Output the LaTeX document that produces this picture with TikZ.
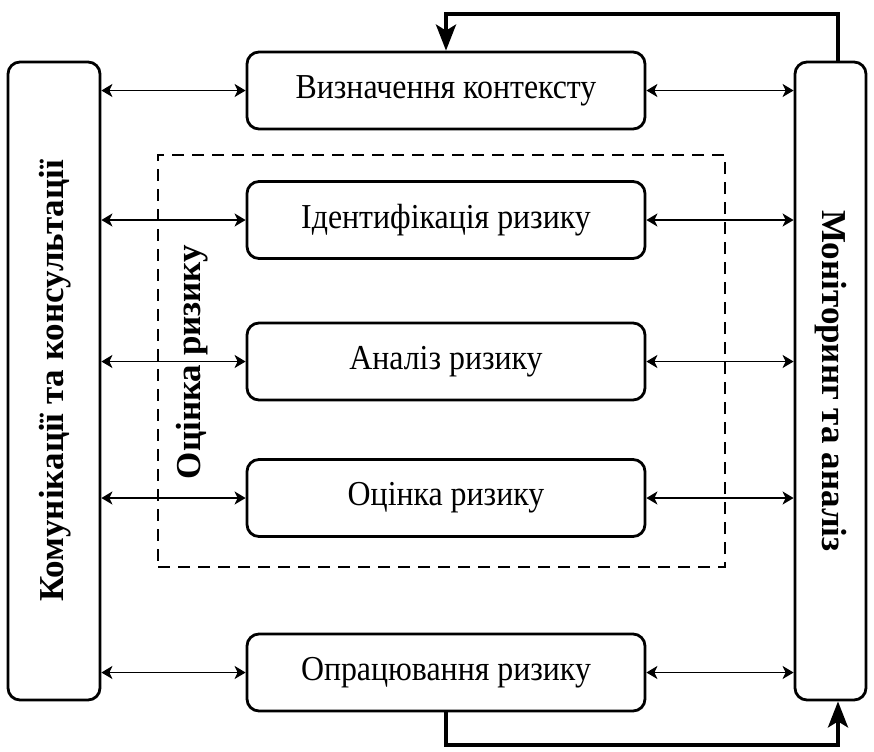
\documentclass[tikz,border=0pt]{standalone}
\usepackage{fontspec}
\setmainfont{Liberation Serif}
\usetikzlibrary{arrows.meta}
% narrow setting of the stage captions
\newcommand{\narrowtext}[1]{\scalebox{0.91}[1]{#1}}
\begin{document}
\begin{tikzpicture}[x=0.5pt,y=-0.5pt,
  stagebox/.style={draw, line width=1.4pt, rounded corners=6pt, minimum width=199pt, minimum height=38.5pt, font=\fontsize{17.5}{19}\selectfont, inner sep=0pt},
  sidebox/.style={draw, line width=1.4pt, rounded corners=6pt, minimum height=319pt, inner sep=0pt},
  sidelabel/.style={font=\fontsize{17.5}{19}\selectfont\bfseries},
  link/.style={line width=0.9pt, {Stealth[length=5.5pt,width=6.5pt,inset=1.5pt]}-{Stealth[length=5.5pt,width=6.5pt,inset=1.5pt]}},
  loop/.style={line width=2pt, -{Stealth[length=13pt,width=10pt,inset=3pt]}}
]
\useasboundingbox (0,0) rectangle (874,751);

% side boxes
\node[sidebox, minimum width=46pt] (comm) at (54,381) {};
\node[sidebox, minimum width=35.5pt] (mon) at (830.5,381) {};
\node[rotate=90, sidelabel] (commlabel) at (55,381) {Комунікації та консультації};
\node[rotate=-90, sidelabel] (monlabel) at (830.5,381) {Моніторинг та аналіз};

% risk assessment group
\node[draw, line width=1.4pt, dash pattern=on 6pt off 4pt, minimum width=283.5pt, minimum height=206pt, inner sep=0pt] (assess) at (441.5,361) {};
\node[rotate=90, sidelabel] (assesslabel) at (192,362) {Оцінка ризику};

% process stages
\node[stagebox] (ctx) at (446,90.5) {\narrowtext{Визначення контексту}};
\node[stagebox] (ident) at (446,220) {\narrowtext{Ідентифікація ризику}};
\node[stagebox] (anal) at (446,361.5) {\narrowtext{Аналіз ризику}};
\node[stagebox] (eval) at (446,498) {\narrowtext{Оцінка ризику}};
\node[stagebox] (treat) at (446,672.5) {\narrowtext{Опрацювання ризику}};

% two-way links to the side boxes
\foreach \s in {ctx,ident,anal,eval,treat}{
  \draw[link] (comm.east |- \s.west) -- (\s.west);
  \draw[link] (\s.east) -- (mon.west |- \s.east);
}

% feedback loops
\coordinate (topright) at (838,14);
\coordinate (botright) at (838,745);
\draw[loop] (mon.north -| topright) -- (topright) -- (topright -| ctx.north) -- (ctx.north);
\draw[loop] (treat.south) -- (treat.south |- botright) -- (botright) -- (mon.south -| botright);
\end{tikzpicture}
\end{document}
